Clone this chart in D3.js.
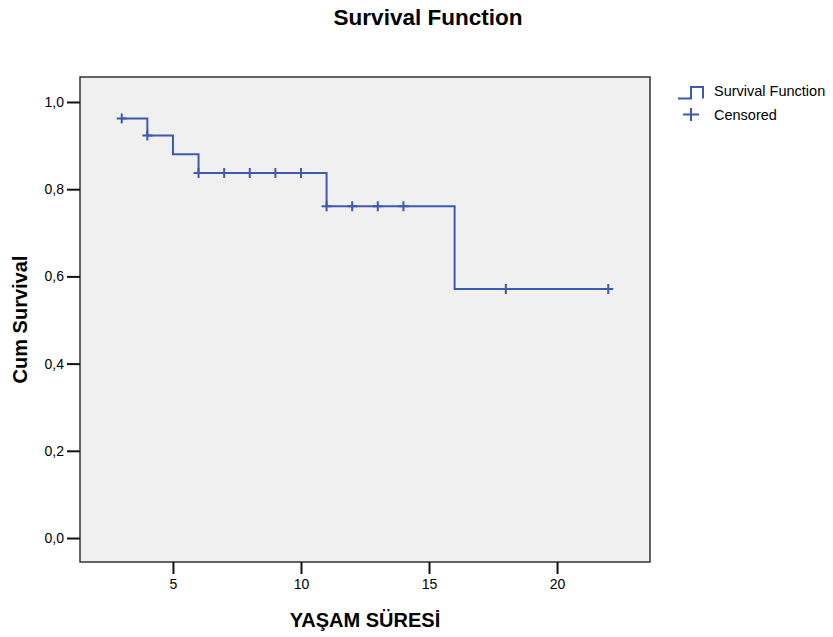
<!DOCTYPE html>
<html>
<head>
<meta charset="utf-8">
<script src="https://cdn.jsdelivr.net/npm/d3@7"></script>
<style>
	body { margin: 0; background: #fff; }
	svg text { font-family: Arial, "Liberation Sans", sans-serif; fill: #000; }
</style>
</head>
<body>
<div id="chart"></div>
<script>
// step function of the Kaplan-Meier estimate
var stepTimes = [3, 4, 5, 6, 11, 16, 22];
var stepSurvival = [0.962, 0.923, 0.880, 0.837, 0.761, 0.571, 0.571];

// censored cases
var censoredTimes = [3, 4, 6, 7, 8, 9, 10, 11, 12, 13, 14, 18, 22];
var censoredSurvival = [0.962, 0.923, 0.837, 0.837, 0.837, 0.837, 0.837, 0.761, 0.761, 0.761, 0.761, 0.571, 0.571];

var xTicks = [5, 10, 15, 20];
var yTicks = [0, 0.2, 0.4, 0.6, 0.8, 1.0];

var titleText = 'Survival Function';
var xTitle = 'YAŞAM SÜRESİ';
var yTitle = 'Cum Survival';
var legendLabels = ['Survival Function', 'Censored'];

(function () {
	var width = 833, height = 637;
	var frame = { left: 80, right: 650, top: 77, bottom: 562 };
	var blue = '#3d5ab0';

	var svg = d3.select('#chart').append('svg')
		.attr('width', width).attr('height', height);

	var x = d3.scaleLinear().domain([1.37, 23.63]).range([frame.left, frame.right]);
	var y = d3.scaleLinear().domain([-0.055, 1.0573]).range([frame.bottom, frame.top]);

	// plot area
	svg.append('rect')
		.attr('x', frame.left).attr('y', frame.top)
		.attr('width', frame.right - frame.left)
		.attr('height', frame.bottom - frame.top)
		.attr('fill', '#f0f0f0')
		.attr('stroke', '#333').attr('stroke-width', 1.5);

	// axes
	var fmt = d => d3.format('.1f')(d).replace('.', ',');
	var yAxis = svg.append('g')
		.attr('transform', 'translate(' + frame.left + ',0)')
		.call(d3.axisLeft(y).tickValues(yTicks).tickFormat(fmt).tickSize(13).tickPadding(3));
	var xAxis = svg.append('g')
		.attr('transform', 'translate(0,' + frame.bottom + ')')
		.call(d3.axisBottom(x).tickValues(xTicks).tickSize(12).tickPadding(5));
	[xAxis, yAxis].forEach(g => {
		g.attr('font-size', 14).attr('font-family', 'Arial, "Liberation Sans", sans-serif');
		g.select('.domain').remove();
		g.selectAll('.tick line').attr('stroke', '#111').attr('stroke-width', 2);
	});

	// survival step line
	var line = d3.line()
		.x((d, i) => x(stepTimes[i]))
		.y((d, i) => y(stepSurvival[i]))
		.curve(d3.curveStepAfter);
	svg.append('path')
		.attr('d', line(stepTimes))
		.attr('fill', 'none')
		.attr('stroke', blue)
		.attr('stroke-width', 2);

	// censored marks
	svg.selectAll('path.censor')
		.data(censoredTimes)
		.enter().append('path')
		.attr('class', 'censor')
		.attr('d', (d, i) => {
			var cx = x(d), cy = y(censoredSurvival[i]);
			return 'M' + [cx - 5, cy] + 'H' + (cx + 5) + 'M' + [cx, cy - 5] + 'V' + (cy + 5);
		})
		.attr('stroke', blue)
		.attr('stroke-width', 2);

	// titles
	svg.append('text')
		.attr('x', 428).attr('y', 25)
		.attr('text-anchor', 'middle')
		.style('font-size', '22.5px').style('font-weight', 'bold')
		.text(titleText);
	svg.append('text')
		.attr('x', (frame.left + frame.right) / 2).attr('y', 627)
		.attr('text-anchor', 'middle')
		.style('font-size', '20px').style('font-weight', 'bold')
		.text(xTitle);
	svg.append('text')
		.attr('transform', 'translate(27,' + ((frame.top + frame.bottom) / 2) + ') rotate(-90)')
		.attr('text-anchor', 'middle')
		.style('font-size', '20px').style('font-weight', 'bold')
		.text(yTitle);

	// legend
	var legend = svg.append('g');
	legend.append('path')
		.attr('d', 'M678,98.5H691V87H703V98.5')
		.attr('fill', 'none').attr('stroke', blue).attr('stroke-width', 2);
	legend.append('path')
		.attr('d', 'M683,114.5H699M691,108V121')
		.attr('stroke', blue).attr('stroke-width', 2);
	legend.selectAll('text')
		.data(legendLabels)
		.enter().append('text')
		.attr('x', 714)
		.attr('y', (d, i) => 96 + i * 24)
		.style('font-size', '14.5px')
		.text(d => d);
})();
</script>
</body>
</html>
